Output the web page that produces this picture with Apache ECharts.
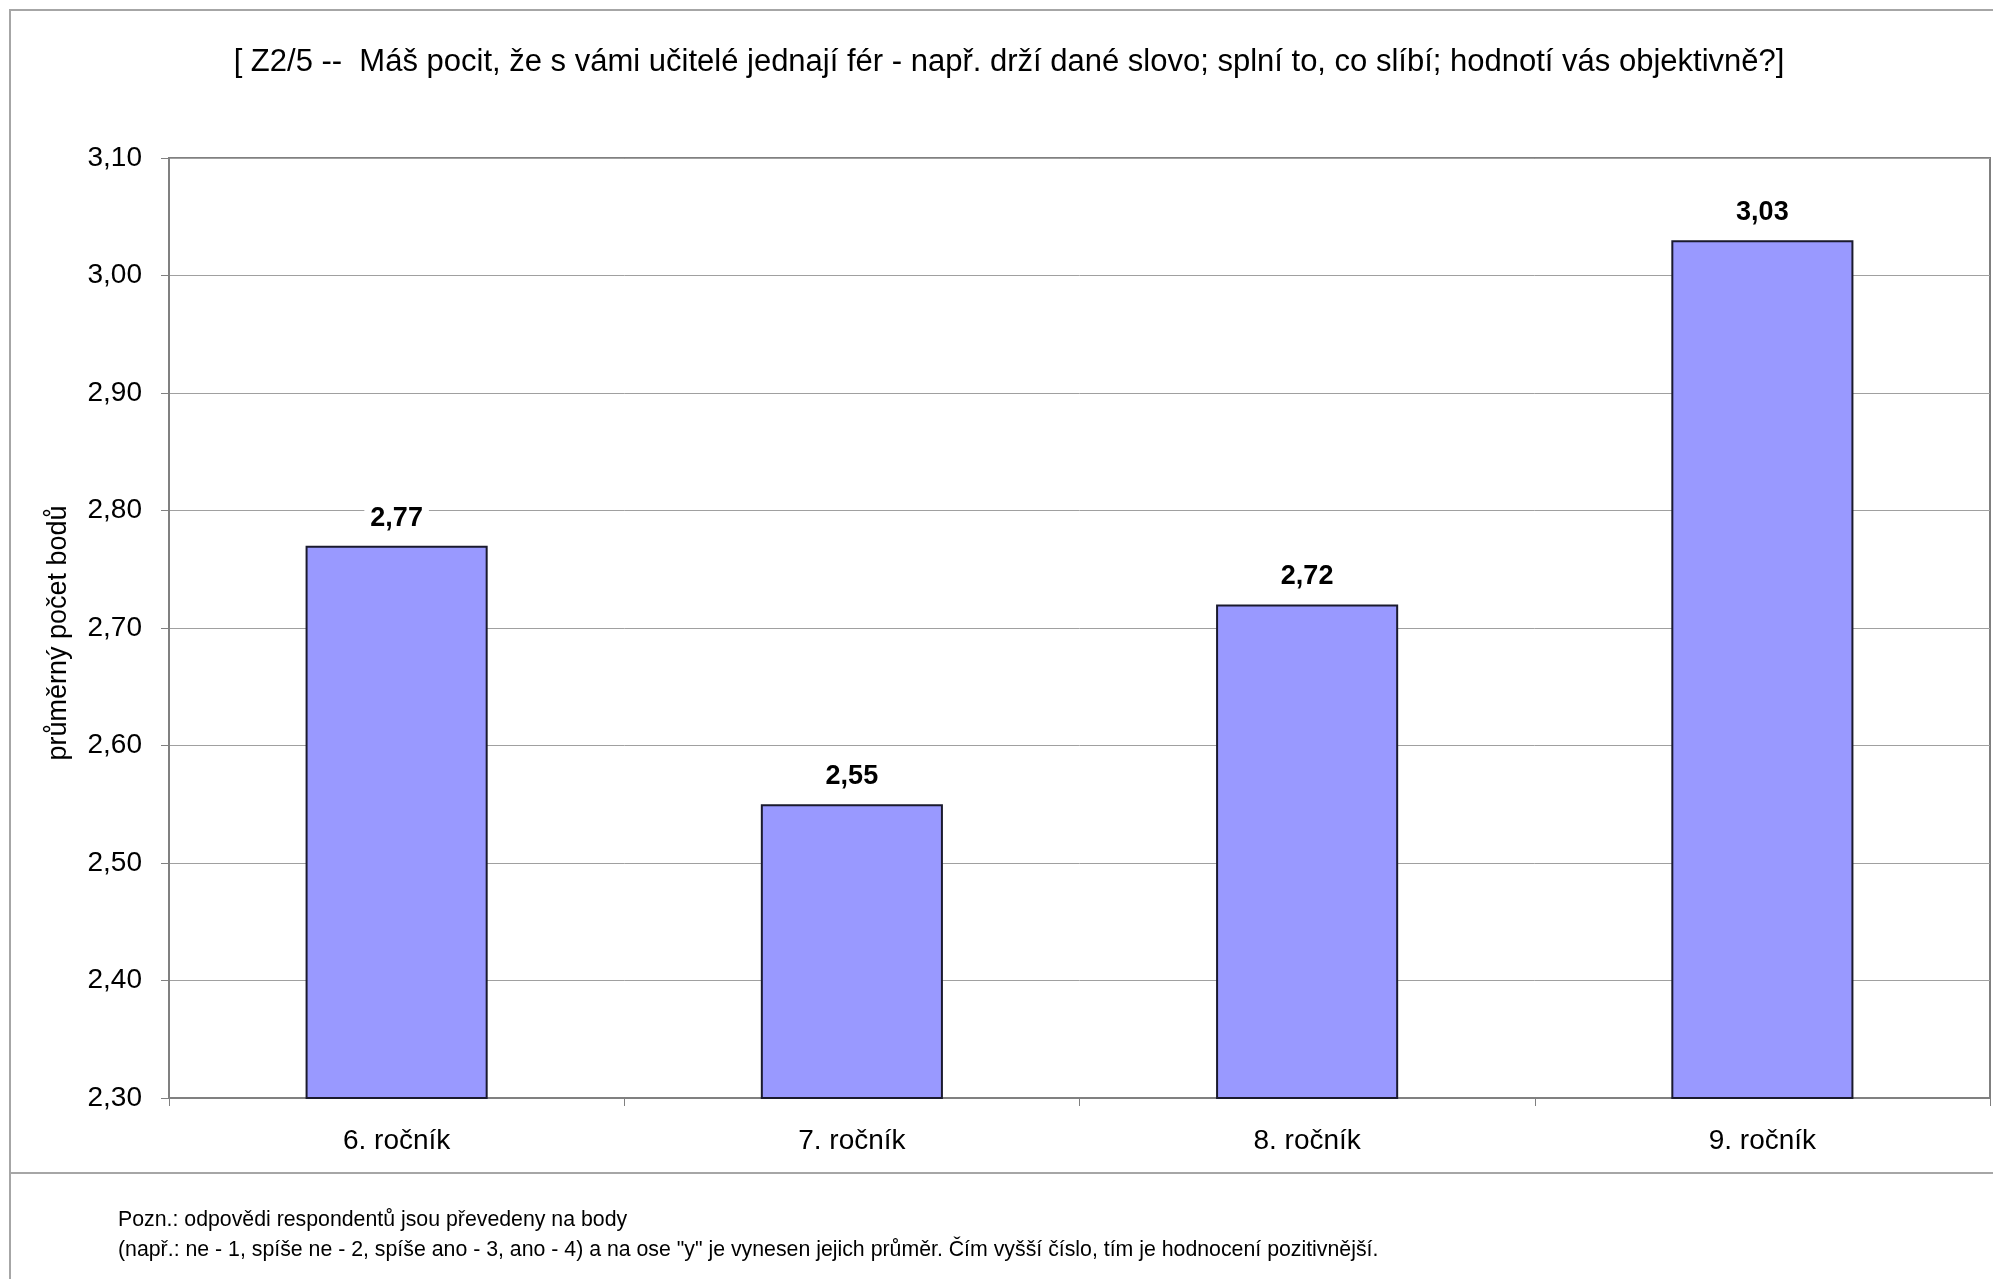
<!DOCTYPE html>
<html>
<head>
<meta charset="utf-8">
<script src="https://cdn.jsdelivr.net/npm/echarts@6/dist/echarts.min.js"></script>
<style>
html,body{margin:0;padding:0;background:#fff;}
#chart{width:1993px;height:1279px;}
</style>
</head>
<body>
<div id="chart"></div>
<script>
const categories = ['6. ročník', '7. ročník', '8. ročník', '9. ročník'];
const values = [2.77, 2.55, 2.72, 3.03];
const yMin = 2.3, yMax = 3.1, yInterval = 0.1;
const titleText = '[ Z2/5 --  Máš pocit, že s vámi učitelé jednají fér - např. drží dané slovo; splní to, co slíbí; hodnotí vás objektivně?]';
const yAxisName = 'průměrný počet bodů';
const noteLines = [
  'Pozn.: odpovědi respondentů jsou převedeny na body',
  '(např.: ne - 1, spíše ne - 2, spíše ano - 3, ano - 4) a na ose "y" je vynesen jejich průměr. Čím vyšší číslo, tím je hodnocení pozitivnější.'
];
const fmt = v => v.toFixed(2).replace('.', ',');
const FONT = '"Liberation Sans", Arial, sans-serif';

const chart = echarts.init(document.getElementById('chart'), null, {renderer: 'canvas'});
chart.setOption({
  backgroundColor: '#ffffff',
  animation: false,
  title: {
    text: titleText,
    left: 1004,
    top: 42,
    textAlign: 'center',
    textStyle: {fontFamily: FONT, fontSize: 31, fontWeight: 'normal', color: '#000'}
  },
  grid: {
    left: 169, top: 158, width: 1821, height: 940,
    show: true, borderColor: '#808080', borderWidth: 2, backgroundColor: '#fff'
  },
  xAxis: {
    type: 'category',
    data: categories,
    boundaryGap: true,
    axisLine: {show: true, lineStyle: {color: '#808080', width: 2}},
    axisTick: {show: true, alignWithLabel: false, length: 8, lineStyle: {color: '#808080', width: 1}},
    axisLabel: {fontFamily: FONT, fontSize: 28, color: '#000', margin: 29}
  },
  yAxis: {
    type: 'value',
    min: yMin, max: yMax, interval: yInterval,
    name: yAxisName,
    nameLocation: 'middle',
    nameGap: 97,
    nameRotate: 90,
    nameTextStyle: {fontFamily: FONT, fontSize: 27, color: '#000', padding: [0, 10, 0, 0]},
    axisLine: {show: true, lineStyle: {color: '#808080', width: 2}},
    axisTick: {show: true, length: 8, lineStyle: {color: '#808080', width: 1}},
    axisLabel: {fontFamily: FONT, fontSize: 28, color: '#000', margin: 27, formatter: v => fmt(v)},
    splitLine: {show: true, lineStyle: {color: '#a0a0a0', width: 1}}
  },
  series: [{
    type: 'bar',
    data: values,
    barWidth: '40%',
    itemStyle: {color: '#9999ff', borderColor: '#1a1a2e', borderWidth: 2},
    label: {
      show: true, position: 'top', distance: 12,
      fontFamily: FONT, fontSize: 27, fontWeight: 'bold', color: '#000',
      backgroundColor: '#fff', padding: [2, 6],
      formatter: p => fmt(p.value)
    }
  }],
  graphic: [
    {type: 'rect', shape: {x: 10, y: 10, width: 2000, height: 1300}, style: {fill: 'none', stroke: '#a6a6a6', lineWidth: 2}, silent: true, z: -10},
    {type: 'line', shape: {x1: 10, y1: 1173, x2: 1993, y2: 1173}, style: {stroke: '#a6a6a6', lineWidth: 2}, silent: true},
    {type: 'text', left: 118, top: 1210, style: {text: noteLines[0], fontFamily: FONT, fontSize: 21.3, fill: '#000'}},
    {type: 'text', left: 118, top: 1240, style: {text: noteLines[1], fontFamily: FONT, fontSize: 21.3, fill: '#000'}}
  ]
});
</script>
</body>
</html>
